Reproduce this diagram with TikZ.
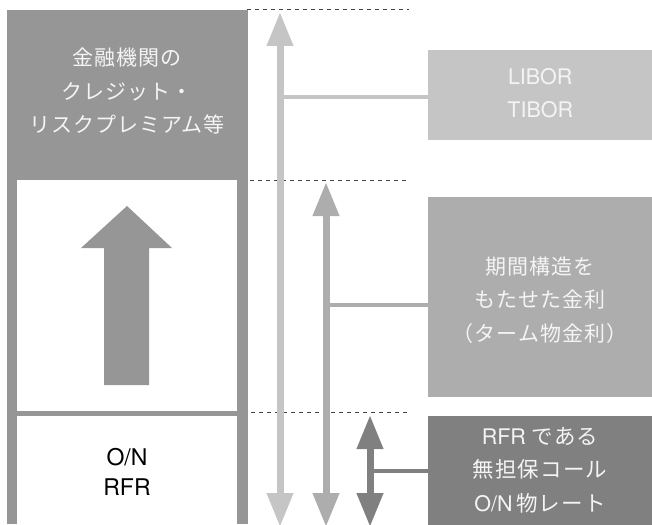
\documentclass[tikz,border=0pt]{standalone}
\usepackage{fontspec}
\setmainfont{TeX Gyre Heros}
\newfontfamily\jp[LetterSpace=5]{Noto Sans CJK JP}
\newcommand\jtx[1]{{\jp #1}}
\usetikzlibrary{arrows.meta}
\definecolor{cDark}{HTML}{969696}
\definecolor{cLight}{HTML}{C5C5C5}
\definecolor{cMid}{HTML}{ADADAD}
\definecolor{cDeep}{HTML}{808080}
\definecolor{cText}{HTML}{F4F4F4}
\definecolor{cDash}{HTML}{444444}
\tikzset{
  box/.style={draw=none, inner sep=0pt, anchor=north west},
  jtxt/.style={font=\jp\fontsize{21}{33.5}\selectfont, align=center, text=cText},
  ltxt/.style={font=\fontsize{21.5}{33.5}\selectfont, align=center, text=cText},
  dline/.style={draw=cDash, line width=1pt, dash pattern=on 4pt off 4pt},
  darr/.style={line width=7pt, {Triangle[width=25pt,length=34pt]}-{Triangle[width=25pt,length=34pt]}},
  conn/.style={line width=4pt},
}
\begin{document}
\begin{tikzpicture}[x=1pt,y=-1pt]
\useasboundingbox (0,0) rectangle (652,524);
% left column
\fill[cDark] (7,10) rectangle (248,524);
\fill[white] (17,180) rectangle (237,411);
\fill[white] (17,416) rectangle (237,524);
\node[jtxt] (credit) at (127,91) {金融機関の\\クレジット・\\リスクプレミアム等};
\node[font=\fontsize{23}{30}\selectfont, align=center, text=black] (onrfr) at (127,472) {O/N\\RFR};
% big up arrow
\fill[cDark] (104,385) -- (104,248) -- (81,248) -- (127,206) -- (172,248) -- (149,248) -- (149,385) -- cycle;
% dashed guides
\coordinate (d1a) at (247,10); \coordinate (d1b) at (409,10);
\coordinate (d2a) at (250,180); \coordinate (d2b) at (409,180);
\coordinate (d3a) at (251,412); \coordinate (d3b) at (409,412);
\draw[dline] (d1a) -- (d1b);
\draw[dline] (d2a) -- (d2b);
\draw[dline] (d3a) -- (d3b);
% right boxes
\node[box, fill=cLight, minimum width=224pt, minimum height=90pt] (libor) at (428,50) {};
\node[ltxt] at ([yshift=2pt]libor.center) {LIBOR\\TIBOR};
\node[box, fill=cMid, minimum width=224pt, minimum height=200pt] (term) at (428,197) {};
\node[jtxt] at (540,300) {期間構造を\\もたせた金利\\（ターム物金利）};
\node[box, fill=cDeep, minimum width=224pt, minimum height=110pt] (rfr) at (428,416) {};
\node[ltxt] at (540,470) {RFR\jtx{ である}\\\jtx{無担保コール}\\O/N\,\jtx{物レート}};
% vertical arrows
\coordinate (a1t) at (280,12); \coordinate (a1b) at (280,527);
\coordinate (a2t) at (326,182); \coordinate (a2b) at (326,527);
\coordinate (a3t) at (370,415); \coordinate (a3b) at (370,527);
\draw[darr, cLight] (a1t) -- (a1b);
\draw[darr, cMid] (a2t) -- (a2b);
\draw[darr, cDeep] (a3t) -- (a3b);
% connectors
\draw[conn, cLight] (280,97) -- (libor.west |- 0,97);
\draw[conn, cMid] (326,305) -- (term.west |- 0,305);
\draw[conn, cDeep] (370,471) -- (rfr.west |- 0,471);
\end{tikzpicture}
\end{document}
